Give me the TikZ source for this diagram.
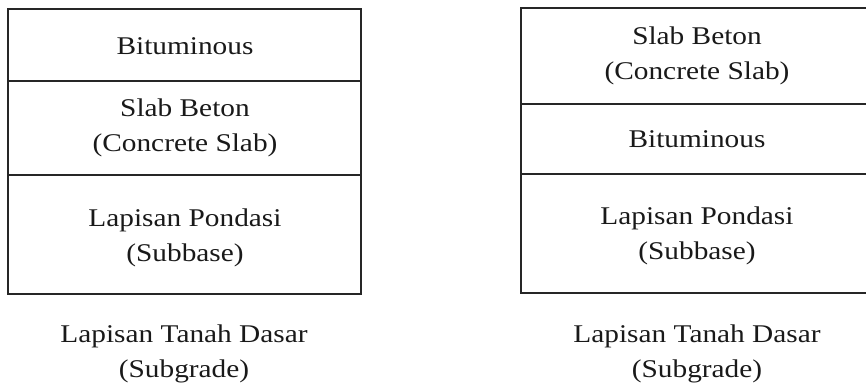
\documentclass[tikz,border=0pt]{standalone}
\usepackage{fontspec}
\setmainfont{Liberation Serif}
\begin{document}
\begin{tikzpicture}[x=1pt,y=-1pt,
  layer/.style={draw=black!85,line width=1.6pt},
  lbl/.style={inner sep=0pt,align=center,font=\fontsize{25.5}{35}\selectfont,text=black!90,transform shape,xscale=1.15}]
\useasboundingbox (0,0) rectangle (866,388);
\begin{scope}
\clip (0,0) rectangle (866,388);
% left column
\draw[layer] (8,9) rectangle (361,294);
\draw[layer] (8,81) -- (361,81);
\draw[layer] (8,175) -- (361,175);
% right column
\draw[layer] (521,8) rectangle (873,293);
\draw[layer] (521,104) -- (873,104);
\draw[layer] (521,174) -- (873,174);
\end{scope}
\node[lbl] (lbit) at (185,46) {Bituminous};
\node[lbl] (lslab) at (185,128) {Slab Beton\\(Concrete Slab)};
\node[lbl] (lsub) at (185,238) {Lapisan Pondasi\\(Subbase)};
\node[lbl] (lgrade) at (184,354) {Lapisan Tanah Dasar\\(Subgrade)};
\node[lbl] (rslab) at (697,56) {Slab Beton\\(Concrete Slab)};
\node[lbl] (rbit) at (697,139) {Bituminous};
\node[lbl] (rsub) at (697,236) {Lapisan Pondasi\\(Subbase)};
\node[lbl] (rgrade) at (697,354) {Lapisan Tanah Dasar\\(Subgrade)};
\end{tikzpicture}
\end{document}
